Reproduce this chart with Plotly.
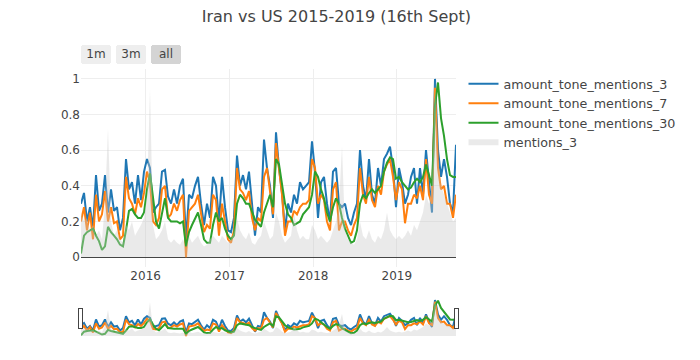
import pandas as pd
import plotly.graph_objects as go

# Dates: 126 evenly spaced samples over the period shown
dates = pd.date_range("2015-03-25", "2019-09-16", periods=126)

tone_3 = [0.30, 0.36, 0.20, 0.28, 0.16, 0.46, 0.26, 0.30, 0.46, 0.25,
          0.38, 0.26, 0.28, 0.15, 0.22, 0.55, 0.38, 0.42, 0.30, 0.46,
          0.32, 0.48, 0.55, 0.50, 0.25, 0.28, 0.30, 0.48, 0.49, 0.34,
          0.30, 0.38, 0.30, 0.40, 0.44, 0.10, 0.35, 0.33, 0.40, 0.45,
          0.30, 0.18, 0.30, 0.22, 0.45, 0.40, 0.20, 0.45, 0.28, 0.15,
          0.14, 0.22, 0.57, 0.40, 0.46, 0.38, 0.48, 0.30, 0.12, 0.28,
          0.25, 0.66, 0.50, 0.40, 0.22, 0.70, 0.50, 0.36, 0.15, 0.30,
          0.25, 0.35, 0.30, 0.42, 0.38, 0.40, 0.42, 0.65, 0.48, 0.22,
          0.42, 0.45, 0.30, 0.20, 0.48, 0.50, 0.30, 0.28, 0.30, 0.22,
          0.18, 0.25, 0.30, 0.60, 0.40, 0.32, 0.55, 0.35, 0.30, 0.50,
          0.40, 0.55, 0.58, 0.62, 0.50, 0.28, 0.50, 0.42, 0.30, 0.35,
          0.45, 0.50, 0.30, 0.50, 0.35, 0.60, 0.40, 0.25, 1.00, 0.60,
          0.45, 0.55, 0.45, 0.30, 0.25, 0.63]

tone_7 = [0.20, 0.28, 0.15, 0.25, 0.10, 0.35, 0.20, 0.24, 0.37, 0.20,
          0.28, 0.19, 0.20, 0.10, 0.12, 0.45, 0.33, 0.30, 0.24, 0.33,
          0.28, 0.36, 0.48, 0.42, 0.20, 0.18, 0.22, 0.38, 0.40, 0.22,
          0.24, 0.30, 0.26, 0.32, 0.35, 0.00, 0.26, 0.28, 0.30, 0.35,
          0.25, 0.14, 0.18, 0.16, 0.35, 0.32, 0.12, 0.30, 0.20, 0.10,
          0.08, 0.15, 0.50, 0.38, 0.36, 0.32, 0.37, 0.22, 0.15, 0.22,
          0.20, 0.45, 0.50, 0.38, 0.24, 0.64, 0.48, 0.35, 0.12, 0.20,
          0.20, 0.26, 0.24, 0.28, 0.30, 0.30, 0.32, 0.55, 0.50, 0.30,
          0.35, 0.32, 0.20, 0.15, 0.38, 0.42, 0.15, 0.20, 0.20, 0.15,
          0.12, 0.18, 0.22, 0.50, 0.35, 0.30, 0.45, 0.32, 0.28, 0.40,
          0.35, 0.48, 0.52, 0.55, 0.45, 0.32, 0.42, 0.38, 0.19, 0.30,
          0.30, 0.35, 0.33, 0.40, 0.32, 0.55, 0.35, 0.30, 0.95, 0.50,
          0.38, 0.40, 0.30, 0.30, 0.22, 0.35]

tone_30 = [0.02, 0.12, 0.14, 0.15, 0.16, 0.12, 0.09, 0.04, 0.06, 0.17,
           0.14, 0.12, 0.10, 0.07, 0.06, 0.15, 0.26, 0.27, 0.24, 0.22,
           0.22, 0.25, 0.38, 0.47, 0.32, 0.20, 0.16, 0.24, 0.33, 0.22,
           0.20, 0.20, 0.20, 0.19, 0.20, 0.06, 0.14, 0.18, 0.22, 0.25,
           0.18, 0.10, 0.08, 0.08, 0.18, 0.25, 0.20, 0.22, 0.16, 0.12,
           0.10, 0.12, 0.30, 0.35, 0.33, 0.30, 0.30, 0.25, 0.21, 0.19,
           0.17, 0.25, 0.30, 0.35, 0.28, 0.55, 0.52, 0.42, 0.30, 0.24,
           0.22, 0.18, 0.19, 0.20, 0.24, 0.26, 0.28, 0.35, 0.48, 0.45,
           0.38, 0.33, 0.25, 0.20, 0.28, 0.33, 0.30, 0.22, 0.16, 0.12,
           0.08, 0.09, 0.15, 0.30, 0.35, 0.33, 0.36, 0.38, 0.36, 0.38,
           0.40, 0.48, 0.53, 0.56, 0.55, 0.44, 0.45, 0.42, 0.40, 0.38,
           0.39, 0.42, 0.44, 0.42, 0.45, 0.52, 0.46, 0.40, 0.85, 0.98,
           0.78, 0.68, 0.55, 0.46, 0.45, 0.45]

mentions_3 = [0.25, 0.20, 0.22, 0.15, 0.18, 0.12, 0.15, 0.10, 0.30, 0.72,
              0.20, 0.12, 0.15, 0.10, 0.08, 0.18, 0.15, 0.20, 0.12, 0.15,
              0.18, 0.22, 0.35, 0.94, 0.18, 0.10, 0.12, 0.15, 0.20, 0.10,
              0.08, 0.10, 0.08, 0.07, 0.10, 0.05, 0.12, 0.08, 0.10, 0.12,
              0.08, 0.06, 0.07, 0.10, 0.12, 0.10, 0.08, 0.12, 0.10, 0.08,
              0.10, 0.14, 0.22, 0.15, 0.12, 0.10, 0.14, 0.08, 0.07, 0.10,
              0.12, 0.20, 0.15, 0.10, 0.12, 0.25, 0.20, 0.12, 0.08, 0.10,
              0.12, 0.25, 0.15, 0.10, 0.12, 0.10, 0.10, 0.18, 0.15, 0.10,
              0.12, 0.10, 0.08, 0.10, 0.15, 0.20, 0.30, 0.62, 0.15, 0.10,
              0.08, 0.07, 0.10, 0.20, 0.12, 0.10, 0.15, 0.10, 0.08, 0.12,
              0.10, 0.15, 0.25, 0.15, 0.12, 0.10, 0.12, 0.10, 0.12, 0.15,
              0.12, 0.18, 0.15, 0.20, 0.25, 0.35, 0.30, 0.40, 1.00, 0.55,
              0.40, 0.35, 0.30, 0.25, 0.20, 0.22]

fig = go.Figure()
fig.add_trace(go.Scatter(x=dates, y=tone_3, name="amount_tone_mentions_3",
                         mode="lines", line=dict(color="#1f77b4", width=2)))
fig.add_trace(go.Scatter(x=dates, y=tone_7, name="amount_tone_mentions_7",
                         mode="lines", line=dict(color="#ff7f0e", width=2)))
fig.add_trace(go.Scatter(x=dates, y=tone_30, name="amount_tone_mentions_30",
                         mode="lines", line=dict(color="#2ca02c", width=2)))
fig.add_trace(go.Scatter(x=dates, y=mentions_3, name="mentions_3",
                         mode="none", fill="tozeroy",
                         fillcolor="rgba(200,200,200,0.38)"))

fig.update_layout(
    template="none",
    width=700, height=360,
    font=dict(family="DejaVu Sans", size=12, color="#444"),
    title=dict(text="Iran vs US 2015-2019 (16th Sept)", x=0.469, y=1,
               xanchor="center", yanchor="top", pad=dict(t=3),
               font=dict(family="DejaVu Sans", size=16)),
    legend=dict(font=dict(family="DejaVu Sans", size=12.7)),
    margin=dict(l=73, r=252, t=61, b=30),
    xaxis=dict(
        type="date",
        showgrid=True, gridcolor="#eee",
        rangeselector=dict(buttons=[
            dict(count=1, label="1m", step="month", stepmode="backward"),
            dict(count=3, label="3m", step="month", stepmode="backward"),
            dict(step="all", label="all"),
        ]),
        rangeslider=dict(visible=True),
    ),
    yaxis=dict(showgrid=True, gridcolor="#eee", zeroline=True,
               zerolinecolor="#444", zerolinewidth=1),
)

fig.write_html("out.html")
